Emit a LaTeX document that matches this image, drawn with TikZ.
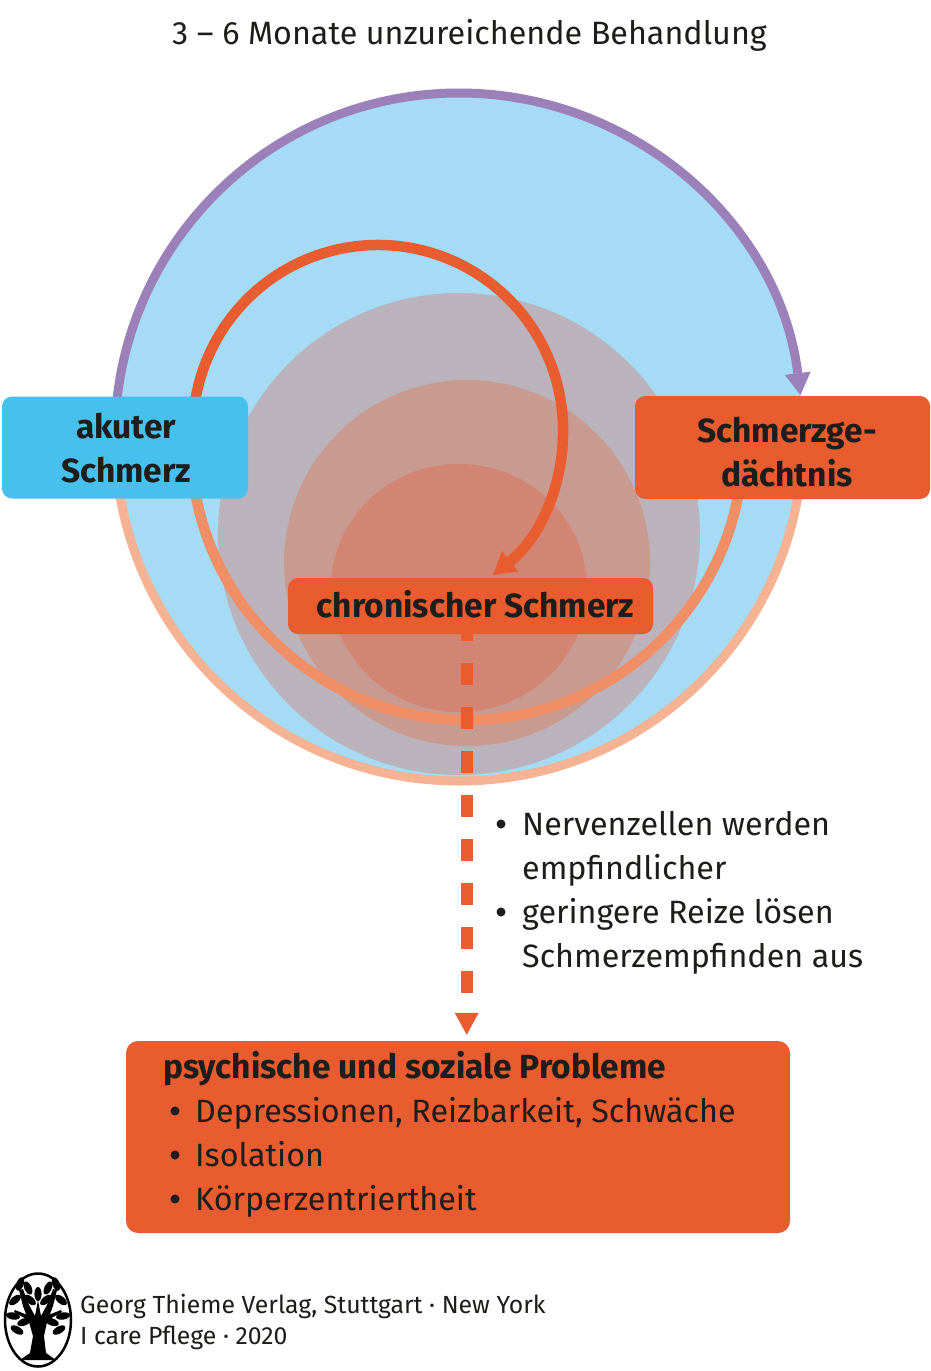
\documentclass[tikz,border=0pt]{standalone}
\usepackage{fontspec}
\setmainfont{Fira Sans}
\usetikzlibrary{arrows.meta}
\definecolor{cblue}{HTML}{A6DBF5}
\definecolor{cgray}{HTML}{BAB3BB}
\definecolor{cmid}{HTML}{C99A90}
\definecolor{cinner}{HTML}{D38574}
\definecolor{corange}{HTML}{E95C30}
\definecolor{clight}{HTML}{F08F66}
\definecolor{cpeach}{HTML}{F5B394}
\definecolor{cpurple}{HTML}{9C80B9}
\definecolor{ccyan}{HTML}{47C0EE}
\definecolor{ctext}{HTML}{1D1D1B}
\tikzset{
  boxshape/.style={rectangle, rounded corners=10pt, inner sep=0pt, draw=none},
  boldtxt/.style={font=\fontsize{33.5}{38}\selectfont\bfseries, text=ctext, inner sep=0pt, anchor=base},
  regtxt/.style={font=\fontsize{32.3}{37}\selectfont, text=ctext, inner sep=0pt, anchor=base west},
  foottxt/.style={font=\fontsize{24.8}{28}\selectfont, text=ctext, inner sep=0pt, anchor=base west},
  bulletdot/.style={circle, fill=ctext, inner sep=0pt, minimum size=9pt},
  leaf/.style={fill=black},
}
\begin{document}
\begin{tikzpicture}[x=1pt,y=1pt]
\useasboundingbox (0,0) rectangle (931,-1371);
\fill[white] (0,0) rectangle (931,-1371);

% title
\node[regtxt, anchor=base] (title) at (469.5,-44) {3 – 6 Monate unzureichende Behandlung};

% filled discs
\fill[cblue] (459,-437) circle (344);
\fill[cgray] (459,-534) circle (241);
\fill[cmid] (467,-563) circle (183);
\fill[cinner] (459,-588) ellipse (128 and 124);

% outer ring
\draw[cpeach, line width=9pt] (459,-437) ++(180:344) arc[start angle=180, end angle=360, radius=344];
\draw[cpurple, line width=9pt, -{Triangle[length=22pt,width=26pt,line width=0pt]}]
  (459,-437) ++(180:344) arc[start angle=180, end angle=7, radius=344];

% inner orange ring
\draw[clight, line width=10.5pt] (467,-444) ++(185:276) arc[start angle=185, end angle=355, radius=276];
\draw[corange, line width=10.5pt, -{Triangle[length=22pt,width=26pt,line width=0pt]}]
  (378,-430) ++(190:185) arc[start angle=190, end angle=-51.6, radius=185];

% boxes
\node[boxshape, fill=ccyan, minimum width=246pt, minimum height=102pt] (akut) at (125,-447.5) {};
\node[boldtxt] (akut1) at (126,-438) {akuter};
\node[boldtxt] (akut2) at (126,-482) {Schmerz};

\node[boxshape, fill=corange, minimum width=295pt, minimum height=103pt] (gedae) at (782.5,-447.5) {};
\node[boldtxt] (gedae1) at (787,-442) {Schmerzge-};
\node[boldtxt] (gedae2) at (787,-486) {dächtnis};

\node[boxshape, fill=corange, minimum width=365pt, minimum height=56pt] (chron) at (470.5,-606) {};
\node[boldtxt] (chron1) at (475.5,-617) {chronischer Schmerz};

\node[boxshape, rounded corners=12pt, fill=corange, minimum width=664pt, minimum height=192pt] (big) at (458,-1137) {};

% dashed connector
\coordinate (dcol) at (466.7,0);
\draw[corange, line width=12pt, dash pattern=on 22pt off 22pt, dash phase=15pt, shorten >=6pt,
  -{Triangle[length=22pt,width=24pt,line width=0pt]}]
  (chron.south -| dcol) -- (big.north -| dcol);

% bullet texts
\node[bulletdot] (bA) at (501,-824) {};
\node[regtxt] (tA1) at (522,-835) {Nervenzellen werden};
\node[regtxt] (tA2) at (522,-879) {empfindlicher};
\node[bulletdot] (bB) at (501,-912) {};
\node[regtxt] (tB1) at (522,-923) {geringere Reize lösen};
\node[regtxt] (tB2) at (522,-967) {Schmerzempfinden aus};

% big box texts
\node[boldtxt, anchor=base west] (bigh) at (163,-1078) {psychische und soziale Probleme};
\node[bulletdot] (bC) at (175,-1111) {};
\node[regtxt] (tC) at (195,-1122) {Depressionen, Reizbarkeit, Schwäche};
\node[bulletdot] (bD) at (175,-1155) {};
\node[regtxt] (tD) at (195,-1166) {Isolation};
\node[bulletdot] (bE) at (175,-1199) {};
\node[regtxt] (tE) at (195,-1210) {Körperzentriertheit};

% footer logo
\draw[black, line width=2.5pt] (38,-1320) ellipse (33 and 46.5);
\fill[black] (20,-1360) -- (30,-1353) -- (33,-1336) -- (29,-1322) -- (23,-1306) -- (19,-1290)
  -- (23,-1289) -- (28,-1303) -- (35,-1316) -- (38,-1300) -- (41,-1316) -- (48,-1303) -- (53,-1289)
  -- (57,-1290) -- (53,-1306) -- (47,-1322) -- (44,-1336) -- (46,-1353) -- (56,-1360) -- cycle;
\fill[black] (28,-1320) -- (14,-1312) -- (15,-1310) -- (30,-1316) -- cycle;
\fill[black] (48,-1320) -- (62,-1312) -- (61,-1310) -- (46,-1316) -- cycle;
\foreach \px/\py/\r in {15/-1300/40, 13/-1316/-10, 20/-1284/70, 28/-1288/115, 30/-1300/-40,
  61/-1300/140, 63/-1316/190, 56/-1284/110, 48/-1288/65, 46/-1300/220, 38/-1294/90,
  17/-1330/-30, 59/-1330/210, 24/-1322/20, 52/-1322/160}
  \fill[leaf, rotate around={\r:(\px,\py)}] (\px,\py) ellipse (7 and 3.6);
\node[foottxt] (f1) at (80,-1313) {Georg Thieme Verlag, Stuttgart · New York};
\node[foottxt] (f2) at (80,-1344) {I care Pflege · 2020};
\end{tikzpicture}
\end{document}
